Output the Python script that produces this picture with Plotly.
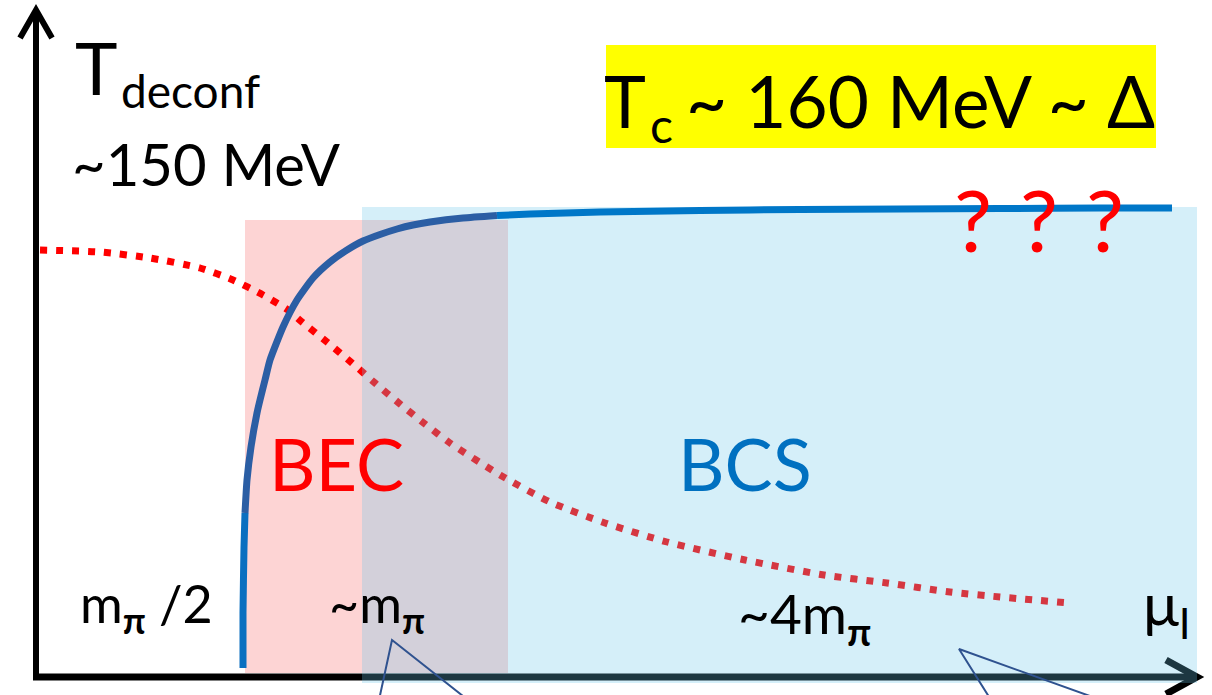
import plotly.graph_objects as go

# ---- data (x: mu_I in arbitrary units, T in arbitrary units) ----
tc_mu = [243, 243, 244, 245, 247, 251, 257, 260, 265, 270, 283, 297, 313, 330,
         347, 363, 380, 397, 413, 430, 463, 497, 530, 600, 700, 800, 900,
         1000, 1100, 1172]
tc_T = [27, 82, 148, 182, 215, 248, 282, 295, 315, 335, 368, 395, 417, 433,
        445, 454, 460.5, 466, 470, 473, 477, 479.5, 481, 483, 484.5, 485.5,
        486, 486.5, 487, 487]

deconf_mu = [40, 100, 150, 200, 233, 263, 288, 302, 327, 352, 375, 400, 425,
             450, 500, 550, 605, 667, 745, 824, 887, 950, 1000, 1070]
deconf_T = [445, 443, 437, 427, 415, 400, 385, 373, 353, 332, 312, 291, 271,
            252, 220, 193, 172, 153, 135, 120, 112, 103, 98, 92]

bec_mu = [245, 508]
bec_T = [22, 475]
bcs_mu = [362, 1197]
bcs_T = [12, 488]

callout1_mu = [379, 392, 468]
callout1_T = [-5, 55, -5]
callout2_mu = [991, 959, 1101]
callout2_T = [-5, 46, -5]

FONT = "Lato"
fig = go.Figure()

def rect(xs, ts, color):
    return go.Scatter(x=[xs[0], xs[1], xs[1], xs[0], xs[0]],
                      y=[ts[0], ts[0], ts[1], ts[1], ts[0]],
                      mode="lines", fill="toself", fillcolor=color,
                      line=dict(width=0), hoverinfo="skip")

# pink BEC region
fig.add_trace(rect(bec_mu, bec_T, "rgba(250,160,160,0.45)"))
# red dotted deconfinement curve
fig.add_trace(go.Scatter(x=deconf_mu, y=deconf_T, mode="lines",
                         line=dict(color="#ff0000", width=7, dash="7px,9px",
                                   shape="spline", smoothing=0.6)))
# light blue BCS region
fig.add_trace(rect(bcs_mu, bcs_T, "rgba(105,198,233,0.28)"))

# Tc curve: bright bottom, dark through the BEC band, bright afterwards
s1, s2 = 3, 21
segments = [(0, s1 + 1, "#0a6fc0"), (s1, s2 + 1, "#2b5ea4"),
            (s2, len(tc_mu), "#0077c8")]
for a, b, col in segments:
    fig.add_trace(go.Scatter(x=tc_mu[a:b], y=tc_T[a:b], mode="lines",
                             line=dict(color=col, width=7, shape="spline",
                                       smoothing=0.5)))

# callout lines
for cx, ct in ((callout1_mu, callout1_T), (callout2_mu, callout2_T)):
    fig.add_trace(go.Scatter(x=cx, y=ct, mode="lines",
                             line=dict(color="#2f528f", width=2)))

shapes = [
    # yellow box
    dict(type="rect", xref="x", yref="y", x0=606, x1=1156, y0=547, y1=650,
         fillcolor="#ffff00", line=dict(width=0), layer="below"),
    # y axis
    dict(type="path", xref="x", yref="y", path="M 36,18 L 36,685",
         line=dict(color="black", width=6), layer="below"),
    dict(type="path", xref="x", yref="y", path="M 20,657 L 36,685 L 52,657",
         line=dict(color="black", width=6), layer="below"),
    # x axis
    dict(type="path", xref="x", yref="y", path="M 33,18 L 1195,18",
         line=dict(color="black", width=7), layer="below"),
    dict(type="path", xref="x", yref="y", path="M 1166,35 L 1197,18 L 1166,1",
         line=dict(color="black", width=7), layer="below"),
]

ann = []
def txt(x, y, s, size, color="black", xanchor="left"):
    ann.append(dict(x=x, y=y, xref="x", yref="y", text=s, showarrow=False,
                    xanchor=xanchor, yanchor="middle",
                    font=dict(family=FONT, size=size, color=color)))

txt(73, 628, "T", 72)
txt(119, 605, "deconf", 46)
txt(70, 532, "~150 MeV", 58)
txt(602, 595, "T", 71)
txt(648, 571, "c", 48)
txt(684, 595, "~ 160 MeV ~ Δ", 71)
for qx in (973, 1039, 1105):
    txt(qx, 476, "?", 85, color="#ff0000", xanchor="center")
txt(336, 232, "BEC", 72, color="#ff0000", xanchor="center")
txt(745, 232, "BCS", 72, color="#0070c0", xanchor="center")
txt(78, 88, "m<sub><b>π</b></sub> /2", 52)
txt(327, 88, "~m<sub><b>π</b></sub>", 52)
txt(736, 78, "~4m<sub><b>π</b></sub>", 55)
txt(1141, 88, "μ<sub>I</sub>", 60)

fig.update_layout(
    width=1212, height=695, margin=dict(l=0, r=0, t=0, b=0),
    paper_bgcolor="white", plot_bgcolor="white", showlegend=False,
    xaxis=dict(range=[0, 1212], visible=False, fixedrange=True),
    yaxis=dict(range=[0, 695], visible=False, fixedrange=True),
    shapes=shapes, annotations=ann,
)
fig.write_html("out.html", config={"displayModeBar": False})
